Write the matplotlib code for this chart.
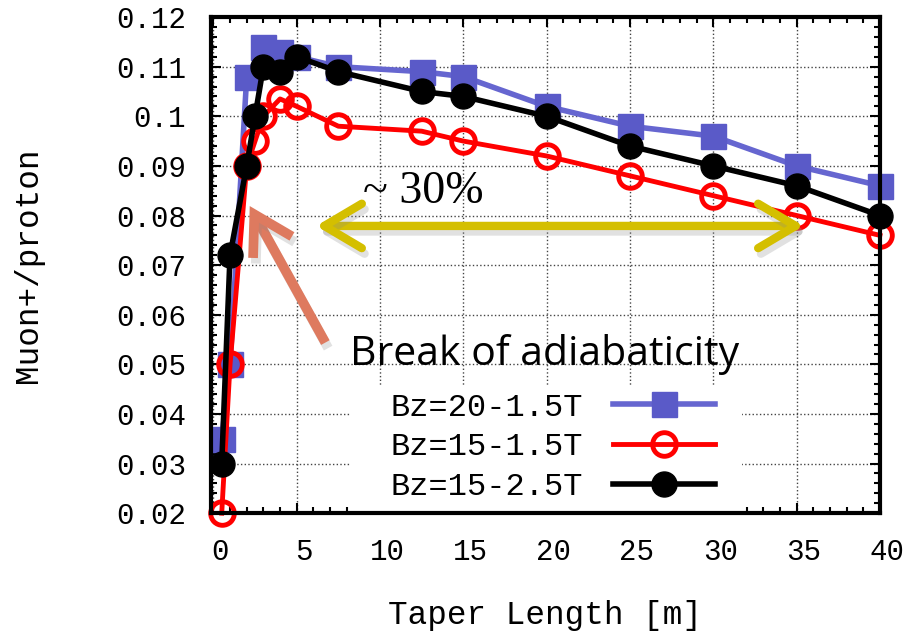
import matplotlib
matplotlib.use('Agg')
import matplotlib.pyplot as plt
from matplotlib.patches import FancyArrowPatch, Rectangle, ArrowStyle
from matplotlib.ticker import AutoMinorLocator
from matplotlib.transforms import ScaledTranslation
import matplotlib.patheffects as pe

# 数据
x_blue = [0.5, 1, 2, 3, 4, 5, 7.5, 12.5, 15, 20, 25, 30, 35, 40]
y_blue = [0.035, 0.050, 0.108, 0.114, 0.113, 0.112, 0.110, 0.109, 0.108,
          0.102, 0.098, 0.096, 0.090, 0.086]

x_red = [0.5, 1, 2, 2.5, 3, 4, 5, 7.5, 12.5, 15, 20, 25, 30, 35, 40]
y_red = [0.020, 0.050, 0.090, 0.095, 0.100, 0.1035, 0.102, 0.098, 0.097,
         0.095, 0.092, 0.088, 0.084, 0.080, 0.076]

x_black = [0.5, 1, 2, 2.5, 3, 4, 5, 7.5, 12.5, 15, 20, 25, 30, 35, 40]
y_black = [0.030, 0.072, 0.090, 0.100, 0.110, 0.109, 0.112, 0.109, 0.105,
           0.104, 0.100, 0.094, 0.090, 0.086, 0.080]

labels = ['Bz=20-1.5T', 'Bz=15-1.5T', 'Bz=15-2.5T']
x_ticks = [0, 5, 10, 15, 20, 25, 30, 35, 40]
y_ticks = [0.02, 0.03, 0.04, 0.05, 0.06, 0.07, 0.08, 0.09, 0.1, 0.11, 0.12]

mono = 'Liberation Mono'

fig = plt.figure(figsize=(9.09, 6.32), dpi=100)
ax = fig.add_axes([0.232, 0.188, 0.736, 0.785])

ax.plot(x_blue, y_blue, color='#6666d0', lw=4, marker='s', ms=18,
        mfc='#5a5ac8', mec='#5a5ac8', label=labels[0], clip_on=False, zorder=3)
ax.plot(x_red, y_red, color='#ff0000', lw=3.5, marker='o', ms=17, mfc='none',
        mec='#ff0000', mew=3.5, label=labels[1], clip_on=False, zorder=4)
ax.plot(x_black, y_black, color='black', lw=4, marker='o', ms=18,
        label=labels[2], clip_on=False, zorder=5)

ax.set_xlim(-0.15, 40)
ax.set_ylim(0.02, 0.12)
ax.set_xticks(x_ticks)
ax.set_yticks(y_ticks)
ax.set_xticklabels([str(v) for v in x_ticks], fontfamily=mono, fontsize=21)
ax.set_yticklabels(['%g' % v for v in y_ticks], fontfamily=mono, fontsize=21)
ax.xaxis.set_minor_locator(AutoMinorLocator(5))
ax.yaxis.set_minor_locator(AutoMinorLocator(5))
ax.tick_params(which='both', direction='in', top=True, right=True, width=1.5)
ax.tick_params(which='major', length=7)
ax.tick_params(which='minor', length=4)
ax.tick_params(axis='x', which='major', pad=18)
ax.tick_params(axis='y', which='major', pad=18)
# x 刻度标签略向右偏 (与原图一致), 放在 tick_params 之后
for lab in ax.get_xticklabels():
    lab.set_transform(lab.get_transform() + ScaledTranslation(0.07, 0, fig.dpi_scale_trans))
for s in ax.spines.values():
    s.set_linewidth(3)
    s.set_zorder(6)

ax.grid(True, which='major', linestyle=':', color='#444444', lw=1)
ax.set_axisbelow(True)

# 图例背景 (遮住网格)
ax.add_patch(Rectangle((0.208, 0), 0.586, 0.258, transform=ax.transAxes,
                       facecolor='white', edgecolor='none', zorder=1.5))

ax.set_xlabel('Taper Length [m]', fontfamily=mono, fontsize=23.5, labelpad=24)
ax.set_ylabel('Muon+/proton', fontfamily=mono, fontsize=23.5, labelpad=52)

leg = ax.legend(loc='upper left', bbox_to_anchor=(0.268, 0.243), frameon=False,
                markerfirst=False, prop={'family': mono, 'size': 23},
                handlelength=3.2, handletextpad=0.95, labelspacing=0.3,
                borderaxespad=0, borderpad=0)
leg.set_zorder(7)

shadow = [pe.SimpleLineShadow(offset=(2, -4), shadow_color='#888888', alpha=0.25),
          pe.Normal()]

# 黄色双向箭头
arr1 = FancyArrowPatch((6.0, 0.0779), (35.6, 0.0779),
                       arrowstyle=ArrowStyle('<->', head_length=27, head_width=16),
                       mutation_scale=1, color='#d4bf00', lw=6, capstyle='round',
                       joinstyle='round', zorder=8)
arr1.set_path_effects(shadow)
ax.add_patch(arr1)

# 橙色箭头
arr2 = FancyArrowPatch((6.8, 0.0539), (2.1, 0.0824),
                       arrowstyle=ArrowStyle('->', head_length=27, head_width=16),
                       mutation_scale=1, color='#de7a5f', lw=7, capstyle='butt',
                       joinstyle='miter', zorder=8)
arr2.set_path_effects(shadow)
ax.add_patch(arr2)

ax.text(9.0, 0.0825, '~ 30%', fontfamily='Liberation Serif', fontsize=33,
        va='baseline', ha='left', zorder=8)
ax.text(8.2, 0.0498, 'Break of adiabaticity', fontfamily='Open Sans', fontsize=29.5,
        va='baseline', ha='left', zorder=8)

fig.savefig('out.png', dpi=100)
